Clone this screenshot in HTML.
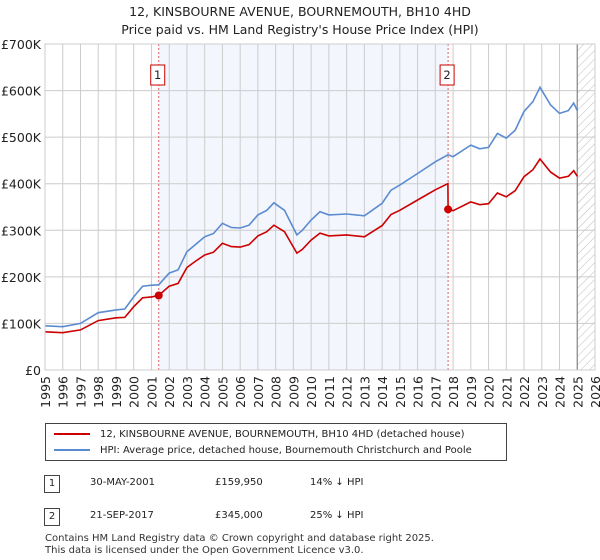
<!DOCTYPE html>
<html><head><meta charset="utf-8"><style>
body{margin:0;width:600px;height:560px;background:#fff;font-family:"DejaVu Sans","Liberation Sans",sans-serif;overflow:hidden;position:relative}
.t{position:absolute;font-size:12.5px;color:#222}
</style></head><body>
<div style="position:absolute;left:0;width:600px;top:3px;text-align:center;font-size:12.5px;line-height:18px;color:#222">12, KINSBOURNE AVENUE, BOURNEMOUTH, BH10 4HD<br>Price paid vs. HM Land Registry's House Price Index (HPI)</div>
<svg id="c" width="600" height="420" style="position:absolute;left:0;top:0;font-family:'DejaVu Sans',sans-serif"></svg>
<div style="position:absolute;left:45px;top:423px;width:460px;height:36px;border:1px solid #444;font-size:10px;color:#222">
<div style="position:absolute;left:8px;top:5px;white-space:nowrap"><span style="display:inline-block;width:36px;height:2px;background:#cc0000;vertical-align:middle;margin-right:10px"></span>12, KINSBOURNE AVENUE, BOURNEMOUTH, BH10 4HD (detached house)</div>
<div style="position:absolute;left:8px;top:21px;white-space:nowrap"><span style="display:inline-block;width:36px;height:2px;background:#5b8bd0;vertical-align:middle;margin-right:10px"></span>HPI: Average price, detached house, Bournemouth Christchurch and Poole</div>
</div>
<div>
<div class="t" style="left:44px;top:475px;width:14px;height:16px;border:1px solid #444;text-align:center;font-size:10px;line-height:16px">1</div>
<div class="t" style="left:90px;top:477px;font-size:10px">30-MAY-2001</div>
<div class="t" style="left:215px;top:477px;font-size:10px">£159,950</div>
<div class="t" style="left:310px;top:477px;font-size:10px">14% ↓ HPI</div>
</div>
<div>
<div class="t" style="left:44px;top:508px;width:14px;height:16px;border:1px solid #444;text-align:center;font-size:10px;line-height:16px">2</div>
<div class="t" style="left:90px;top:510px;font-size:10px">21-SEP-2017</div>
<div class="t" style="left:215px;top:510px;font-size:10px">£345,000</div>
<div class="t" style="left:310px;top:510px;font-size:10px">25% ↓ HPI</div>
</div>
<div style="position:absolute;left:45px;top:533px;font-size:10px;line-height:11.5px;color:#333">Contains HM Land Registry data © Crown copyright and database right 2025.<br>This data is licensed under the Open Government Licence v3.0.</div>
<script>
const dates=[1995.0,1996.0,1997.0,1998.0,1999.0,1999.5,2000.0,2000.5,2001.0,2001.41,2002.0,2002.5,2003.0,2003.5,2004.0,2004.5,2005.0,2005.5,2006.0,2006.5,2007.0,2007.5,2007.9,2008.5,2009.0,2009.2,2009.5,2010.0,2010.5,2011.0,2012.0,2013.0,2014.0,2014.5,2015.0,2016.0,2017.0,2017.71,2017.72,2018.0,2019.0,2019.5,2020.0,2020.5,2021.0,2021.5,2022.0,2022.5,2022.9,2023.5,2024.0,2024.5,2024.8,2025.0];
const hpi=[95,93,100,123,129,131,157,180,182,183,208,215,254,270,286,293,315,306,305,311,333,343,359,343,305,290,300,322,340,333,335,331,358,386,397,422,447,462,462,458,483,475,478,508,498,515,555,576,607,569,551,557,573,557];
const paid=[82,80,86,106,112,113,136,155,157,160,180,186,220,234,247,253,272,265,264,269,288,297,311,297,264,251,259,279,294,288,290,286,310,334,343,365,387,400,345,342,361,355,357,380,372,385,415,430,453,425,412,416,428,416];
const saleDates=[2001.41,2017.72];
const salePrices=[160,345];
const yTicks=[0,100,200,300,400,500,600,700];
const yLabels=["£0","£100K","£200K","£300K","£400K","£500K","£600K","£700K"];
const xYears=[1995,1996,1997,1998,1999,2000,2001,2002,2003,2004,2005,2006,2007,2008,2009,2010,2011,2012,2013,2014,2015,2016,2017,2018,2019,2020,2021,2022,2023,2024,2025,2026];
const L=45,R=595,T=44,B=370;
const X=v=>L+(v-1995)/31*(R-L), Y=v=>B-v/700*(B-T);
const s=document.getElementById('c'),NS='http://www.w3.org/2000/svg';
function mk(t,a,p){const e=document.createElementNS(NS,t);for(const k in a)e.setAttribute(k,a[k]);(p||s).appendChild(e);return e;}
const defs=mk('defs',{});
const pat=mk('pattern',{id:'h',width:6,height:6,patternUnits:'userSpaceOnUse',patternTransform:'rotate(45)'},defs);
mk('line',{x1:0,y1:0,x2:0,y2:6,stroke:'#bbb','stroke-width':1},pat);
let e=mk('rect',{x:X(saleDates[0]),y:T,width:X(saleDates[1])-X(saleDates[0]),height:B-T,fill:'#eef2fc',opacity:0.7});

e=mk('rect',{x:X(2025),y:T,width:R-X(2025),height:B-T,fill:'url(#h)'});

yTicks.forEach((v,i)=>{
 e=mk('line',{x1:L,x2:R,y1:Y(v),y2:Y(v),stroke:'#ccc'});
 
 e=mk('text',{x:L-4,y:Y(v)+5,'text-anchor':'end','font-size':12.5,fill:'#222'});e.textContent=yLabels[i];
 
});
xYears.forEach(v=>{
 e=mk('line',{x1:X(v),x2:X(v),y1:T,y2:B,stroke:'#ccc'});
 
 e=mk('text',{x:0,y:0,'text-anchor':'end','font-size':12.5,fill:'#222',transform:`translate(${X(v)+5},${B+6}) rotate(-90)`});e.textContent=v;
 
});
e=mk('line',{x1:X(2025),x2:X(2025),y1:T,y2:B,stroke:'#888','stroke-width':1.2});

saleDates.forEach((d,i)=>{
 e=mk('line',{x1:X(d),x2:X(d),y1:T,y2:B,stroke:'#e06060','stroke-dasharray':'2,2'});
 
 const bx=X(d)-7;
 e=mk('rect',{x:bx-1,y:65,width:14,height:20,fill:'#fff',stroke:'#cc0000'});
 
 e=mk('text',{x:bx+6,y:79,'text-anchor':'middle','font-size':11.5,fill:'#222'});e.textContent=i+1;
 
});
const pts=a=>a.map((v,i)=>X(dates[i]).toFixed(1)+','+Y(v).toFixed(1)).join(' ');
e=mk('polyline',{points:pts(hpi),fill:'none',stroke:'#5b8bd0','stroke-width':1.6});

e=mk('polyline',{points:pts(paid),fill:'none',stroke:'#cc0000','stroke-width':1.6});

saleDates.forEach((d,i)=>{
 e=mk('circle',{cx:X(d),cy:Y(salePrices[i]),r:4,fill:'#cc0000'});
 
});
e=mk('rect',{x:L,y:T,width:R-L,height:B-T,fill:'none',stroke:'#ccc'});

</script>
</body></html>
